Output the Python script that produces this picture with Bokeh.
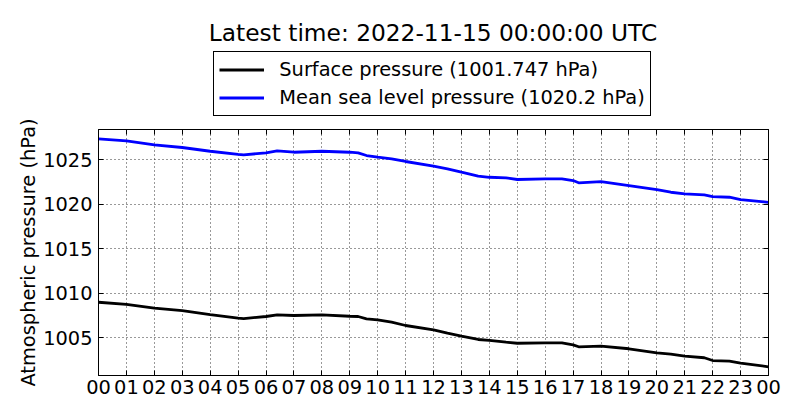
from bokeh.plotting import figure
from bokeh.layouts import column
from bokeh.models import FixedTicker, LinearAxis, Legend, LegendItem, Label, Range1d
from bokeh.embed import file_html
from bokeh.resources import INLINE

# ---- data ----
hours = [0, 1, 2, 3, 4, 5, 5.2, 6, 6.4, 7, 8, 9, 9.3, 9.6, 10, 10.5, 11, 12, 12.5,
         13, 13.6, 14, 14.6, 15, 16, 16.6, 17, 17.2, 18, 19, 20, 20.5, 21, 21.7,
         22, 22.6, 23, 24]
surface = [1008.99, 1008.74, 1008.32, 1008.06, 1007.61, 1007.20, 1007.15, 1007.39,
           1007.58, 1007.50, 1007.58, 1007.42, 1007.39, 1007.13, 1007.02, 1006.75,
           1006.38, 1005.90, 1005.52, 1005.18, 1004.81, 1004.70, 1004.51, 1004.39,
           1004.44, 1004.44, 1004.21, 1003.99, 1004.06, 1003.77, 1003.32, 1003.16,
           1002.94, 1002.76, 1002.45, 1002.38, 1002.15, 1001.747]
msl = [1027.32, 1027.10, 1026.65, 1026.35, 1025.93, 1025.59, 1025.53, 1025.75,
       1025.97, 1025.82, 1025.93, 1025.82, 1025.75, 1025.45, 1025.26, 1025.08,
       1024.78, 1024.25, 1023.96, 1023.58, 1023.13, 1023.01, 1022.95, 1022.76,
       1022.84, 1022.84, 1022.64, 1022.39, 1022.53, 1022.08, 1021.63, 1021.33,
       1021.15, 1021.04, 1020.85, 1020.77, 1020.51, 1020.2]

x_ticks = list(range(25))
x_tick_labels = ["00", "01", "02", "03", "04", "05", "06", "07", "08", "09", "10", "11",
                 "12", "13", "14", "15", "16", "17", "18", "19", "20", "21", "22", "23", "00"]
y_ticks = [1005, 1010, 1015, 1020, 1025]

title_text = "Latest time: 2022-11-15 00:00:00 UTC"
surface_label = "Surface pressure (1001.747 hPa)"
msl_label = "Mean sea level pressure (1020.2 hPa)"
y_label = "Atmospheric pressure (hPa)"

FONT = "DejaVu Sans"
FS = "19.4px"
SFC_COLOR = "#000000"
MSL_COLOR = "#0000ff"
LW = 2.8

W = 800
H_TOP = 118
H_MAIN = 420 - H_TOP
FRAME_LEFT = 98
FRAME_TOP = 129

# ---------------- header figure: title + legend ----------------
top = figure(width=W, height=H_TOP, output_backend="svg", toolbar_location=None,
             x_range=Range1d(0, 1), y_range=Range1d(0, 1),
             x_axis_type=None, y_axis_type=None, title_location=None,
             min_border_left=0, min_border_right=0, min_border_top=0, min_border_bottom=0)
top.outline_line_color = None
top.grid.visible = False
top.background_fill_color = "white"
top.border_fill_color = "white"

# same series, lying outside this header's visible ranges: only their legend glyphs show
leg_sfc = top.line(hours, surface, line_color=SFC_COLOR, line_width=LW)
leg_msl = top.line(hours, msl, line_color=MSL_COLOR, line_width=LW)

# frame of this header is aligned with the main frame (left edge at FRAME_LEFT)
legend = Legend(items=[LegendItem(label=surface_label, renderers=[leg_sfc]),
                       LegendItem(label=msl_label, renderers=[leg_msl])],
                location=(213.3 - FRAME_LEFT, H_TOP - 116), orientation="vertical")
legend.label_text_font = FONT
legend.label_text_font_size = FS
legend.label_text_color = "black"
legend.padding = 5
legend.spacing = 3
legend.label_height = 25
legend.glyph_height = 25
legend.glyph_width = 45
legend.label_standoff = 15
legend.border_line_color = "black"
legend.border_line_width = 1
legend.border_line_alpha = 1
legend.background_fill_color = "white"
legend.background_fill_alpha = 1
legend.margin = 0
top.add_layout(legend)

title = Label(x=432.5 - FRAME_LEFT, y=H_TOP - 31.5, x_units="screen", y_units="screen",
              text=title_text, text_align="center", text_baseline="alphabetic",
              text_font=FONT, text_font_size="23.3px", text_color="black")
top.add_layout(title)

# ---------------- main figure ----------------
p = figure(width=W, height=H_MAIN, output_backend="svg", toolbar_location=None,
           x_range=Range1d(0, 24), y_range=Range1d(1000.77, 1028.37),
           min_border_left=FRAME_LEFT, min_border_right=32,
           min_border_top=FRAME_TOP - H_TOP, min_border_bottom=45,
           title_location=None)
p.background_fill_color = "white"
p.border_fill_color = "white"
p.outline_line_color = "black"
p.outline_line_width = 1
p.outline_line_alpha = 1

p.line(hours, surface, line_color=SFC_COLOR, line_width=LW)
p.line(hours, msl, line_color=MSL_COLOR, line_width=LW)

xa = p.xaxis[0]
xa.ticker = FixedTicker(ticks=x_ticks)
xa.major_label_overrides = {t: lab for t, lab in zip(x_ticks, x_tick_labels)}
ya = p.yaxis[0]
ya.ticker = FixedTicker(ticks=y_ticks)
ya.axis_label = y_label
ya.axis_label_text_font = FONT
ya.axis_label_text_font_size = FS
ya.axis_label_text_font_style = "normal"
ya.axis_label_text_color = "black"
ya.axis_label_standoff = 0

for ax in (xa, ya):
    ax.axis_line_color = "black"
    ax.major_tick_in = 5
    ax.major_tick_out = 0
    ax.major_tick_line_color = "black"
    ax.minor_tick_line_color = None
    ax.major_label_text_font = FONT
    ax.major_label_text_font_size = FS
    ax.major_label_text_color = "black"
xa.major_label_standoff = 4
ya.major_label_standoff = 6

# mirrored ticks on top and right (no labels)
ra = LinearAxis(ticker=FixedTicker(ticks=y_ticks),
                major_label_overrides={t: "" for t in y_ticks})
ta = LinearAxis(ticker=FixedTicker(ticks=x_ticks),
                major_label_overrides={t: "" for t in x_ticks})
for ax in (ra, ta):
    ax.axis_line_color = "black"
    ax.major_tick_in = 5
    ax.major_tick_out = 0
    ax.minor_tick_line_color = None
    ax.major_label_standoff = 0
    ax.major_label_text_font_size = "1px"
p.add_layout(ra, "right")
p.add_layout(ta, "above")

p.grid.grid_line_color = "black"
p.grid.grid_line_dash = "1 3"
p.grid.grid_line_width = 1
p.grid.grid_line_alpha = 0.8

layout = column(top, p, spacing=0)
open("out.html", "w").write(file_html(layout, INLINE))
